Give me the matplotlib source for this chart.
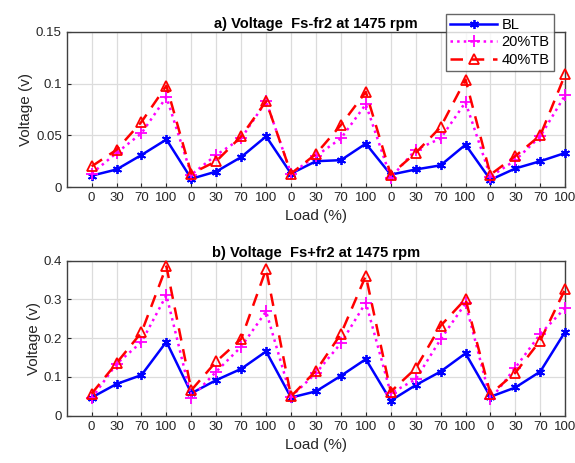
import matplotlib
matplotlib.use("Agg")
import matplotlib.pyplot as plt
import numpy as np

plt.rcParams['font.family'] = ['Liberation Sans', 'DejaVu Sans']

# load steps, repeated for 5 groups
loads = ["0", "30", "70", "100"] * 5
x = np.arange(1, len(loads) + 1)

# a) Fs-fr2
bl_a = [0.011, 0.017, 0.031, 0.046, 0.008, 0.015, 0.029, 0.049, 0.013, 0.025,
        0.026, 0.042, 0.012, 0.017, 0.021, 0.041, 0.007, 0.018, 0.025, 0.033]
tb20_a = [0.013, 0.033, 0.052, 0.087, 0.012, 0.031, 0.047, 0.083, 0.013, 0.030,
          0.047, 0.080, 0.009, 0.036, 0.047, 0.082, 0.010, 0.026, 0.049, 0.089]
tb40_a = [0.020, 0.036, 0.063, 0.098, 0.013, 0.025, 0.049, 0.083, 0.013, 0.032,
          0.060, 0.092, 0.012, 0.033, 0.058, 0.104, 0.012, 0.030, 0.050, 0.109]

# b) Fs+fr2
bl_b = [0.047, 0.082, 0.105, 0.191, 0.058, 0.092, 0.121, 0.166, 0.047, 0.063,
        0.103, 0.146, 0.039, 0.079, 0.114, 0.161, 0.049, 0.073, 0.114, 0.217]
tb20_b = [0.045, 0.134, 0.190, 0.311, 0.047, 0.114, 0.178, 0.269, 0.049, 0.110,
          0.187, 0.292, 0.058, 0.094, 0.197, 0.290, 0.042, 0.124, 0.211, 0.278]
tb40_b = [0.057, 0.136, 0.215, 0.385, 0.066, 0.140, 0.198, 0.378, 0.050, 0.116,
          0.211, 0.361, 0.062, 0.122, 0.232, 0.301, 0.056, 0.111, 0.194, 0.327]

fig = plt.figure(figsize=(5.75, 4.63), dpi=100)
ax1 = fig.add_axes([0.116, 0.596, 0.867, 0.335])
ax2 = fig.add_axes([0.116, 0.102, 0.867, 0.335])


def draw(ax, bl, tb20, tb40, title, ymax, yticks, yticklabels):
    l1, = ax.plot(x, bl, color='#0000ff', lw=1.8, marker=(6, 2, 0), ms=6.5,
                  mew=1.3, label='BL', clip_on=False, zorder=3)
    l2, = ax.plot(x, tb20, color='#ff00ff', lw=1.8, ls=':', marker='+', ms=8,
                  mew=1.3, label='20%TB', clip_on=False, zorder=3)
    l3, = ax.plot(x, tb40, color='#ff0000', lw=1.8, ls=(0, (5, 3.5)), marker='^',
                  ms=6.5, mew=1.3, mfc='none', label='40%TB', clip_on=False,
                  zorder=3)
    ax.set_xlim(0, 20)
    ax.set_ylim(0, ymax)
    ax.set_xticks(x)
    ax.set_xticklabels(loads)
    ax.set_yticks(yticks)
    ax.set_yticklabels(yticklabels)
    ax.grid(True, color='#dcdcdc', lw=0.9)
    ax.set_axisbelow(True)
    ax.tick_params(direction='in', length=3, labelsize=9.5, color='#262626',
                   labelcolor='#262626', top=False, right=False)
    for s in ax.spines.values():
        s.set_color('#404040')
        s.set_linewidth(1.0)
    ax.set_title(title, fontsize=10.5, fontweight='bold', pad=3)
    ax.set_ylabel('Voltage (v)', fontsize=11, color='#262626', labelpad=2)
    ax.set_xlabel('Load (%)', fontsize=11, color='#262626', labelpad=4)
    return [l1, l2, l3]


handles = draw(ax1, bl_a, tb20_a, tb40_a, 'a) Voltage  Fs-fr2 at 1475 rpm',
               0.15, [0, 0.05, 0.1, 0.15], ['0', '0.05', '0.1', '0.15'])
draw(ax2, bl_b, tb20_b, tb40_b, 'b) Voltage  Fs+fr2 at 1475 rpm',
     0.4, [0, 0.1, 0.2, 0.3, 0.4], ['0', '0.1', '0.2', '0.3', '0.4'])

leg = fig.legend(handles=handles, loc='upper right',
                 bbox_to_anchor=(0.963, 0.970), bbox_transform=fig.transFigure,
                 fontsize=10.5, frameon=True, fancybox=False, handlelength=3.2,
                 borderpad=0.3, labelspacing=0.22, handletextpad=0.3,
                 borderaxespad=0)
leg.get_frame().set_edgecolor('#404040')
leg.get_frame().set_linewidth(1.0)
leg.set_zorder(10)

fig.savefig('out.png', dpi=100)
